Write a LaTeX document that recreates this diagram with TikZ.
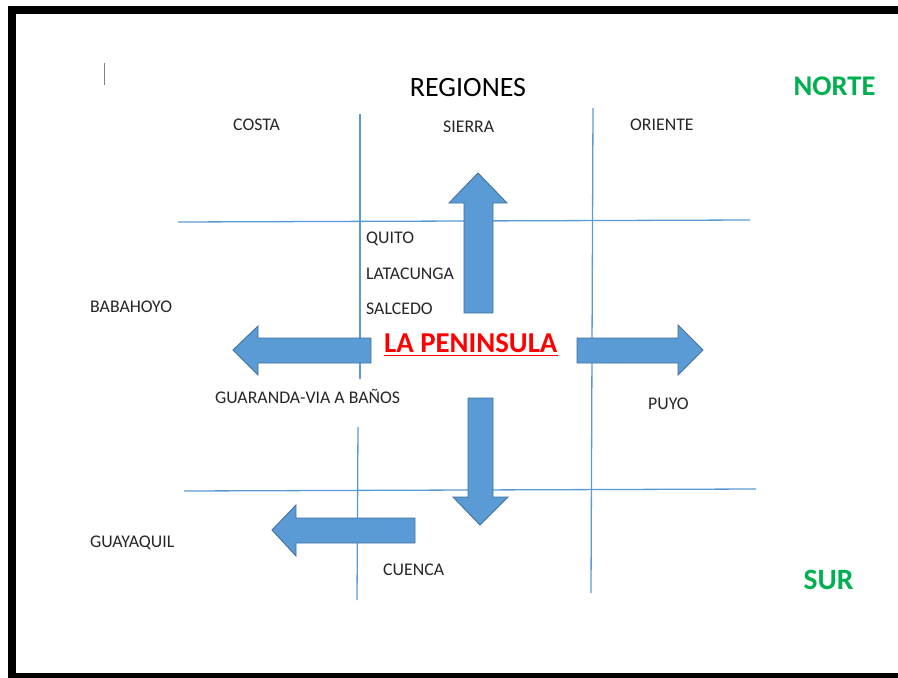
\documentclass[tikz,border=0pt]{standalone}
\usepackage{fontspec}
\setmainfont{Carlito}
\definecolor{abl}{HTML}{5B9BD5}
\definecolor{abd}{HTML}{41719C}
\definecolor{grn}{HTML}{00B050}
\begin{document}
\begin{tikzpicture}[x=1pt,y=-1pt,
  gridline/.style={draw=abl,line width=1.3pt},
  bigarrow/.style={fill=abl,draw=abd,line width=0.9pt,line join=miter},
  lbl/.style={inner sep=0pt,anchor=west,text height=11.3pt,text depth=0pt,font=\fontsize{17.8}{20}\selectfont,text=black!85},
  big/.style={inner sep=0pt,text height=18.5pt,text depth=0pt}]
\useasboundingbox (0,0) rectangle (898,678);
\fill[white] (0,0) rectangle (898,678);
\draw[line width=8pt] (12,10) rectangle (906,677);
% grid lines
\draw[gridline] (360,114) -- (360,379);
\draw[gridline] (358,427) -- (357,600);
\draw[gridline] (593,108) -- (591,593);
\draw[gridline] (178,222) -- (750,220);
\draw[gridline] (184,491) -- (756,489);
% cursor mark
\draw[gray,line width=1pt] (104,63) -- (104,85);
% arrows
\draw[bigarrow] (464,313) -- (464,203) -- (449,203) -- (478,173) -- (507,203) -- (493,203) -- (493,313) -- cycle;
\draw[bigarrow] (371,338) -- (258,338) -- (258,326) -- (233,350) -- (258,375) -- (258,363) -- (371,363) -- cycle;
\draw[bigarrow] (577,338) -- (678,338) -- (678,325) -- (703,350) -- (678,375) -- (678,363) -- (577,363) -- cycle;
\draw[bigarrow] (468,398) -- (493,398) -- (493,497) -- (508,497) -- (480,525) -- (453,497) -- (468,497) -- cycle;
\draw[bigarrow] (415,518) -- (296,518) -- (296,505) -- (272,530) -- (296,556) -- (296,543) -- (415,543) -- cycle;
% texts
\node[big,font=\fontsize{28}{32}\selectfont] (reg) at (468,87) {REGIONES};
\node[big,font=\fontsize{28.5}{32}\selectfont\bfseries,text=grn] (norte) at (834.5,86) {NORTE};
\node[big,font=\fontsize{29.5}{32}\selectfont\bfseries,text=grn] (sur) at (828.5,580) {SUR};
\node[lbl] (costa) at (233,125) {COSTA};
\node[lbl] (sierra) at (443,127) {SIERRA};
\node[lbl] (oriente) at (630,125) {ORIENTE};
\node[lbl] (quito) at (366,238) {QUITO};
\node[lbl] (lata) at (366,274) {LATACUNGA};
\node[lbl] (salc) at (366,309) {SALCEDO};
\node[lbl] (baba) at (90,307) {BABAHOYO};
\node[lbl] (guar) at (215,398) {GUARANDA-VIA A BAÑOS};
\node[lbl] (puyo) at (648,404) {PUYO};
\node[lbl] (guay) at (90,542) {GUAYAQUIL};
\node[lbl] (cuen) at (383,570) {CUENCA};
\node[big,anchor=west,font=\fontsize{28.8}{32}\selectfont\bfseries,text=red] (pen) at (384,343) {LA PENINSULA};
\draw[red,line width=1.5pt] (384,355.5) -- (pen.east |- 0,355.5);
\end{tikzpicture}
\end{document}
